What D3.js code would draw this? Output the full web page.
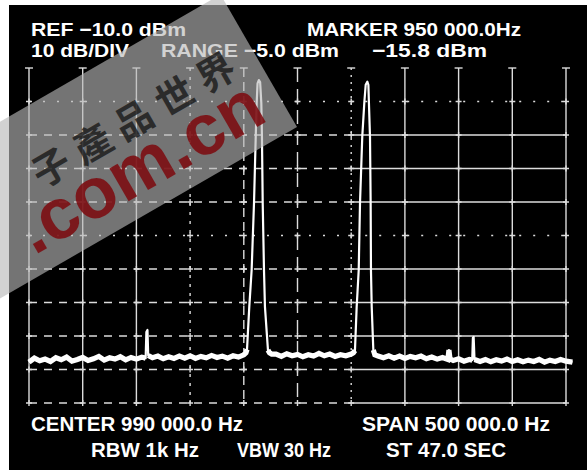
<!DOCTYPE html>
<html>
<head>
<meta charset="utf-8">
<style type="text/css">
  body{
    margin: 0;
    background: white;
  }
  svg{ display: block; }
  .lbl{
    fill: white;
    font-family: 'Liberation Sans', Arial, sans-serif;
    font-weight: bold;
  }
</style>
</head>
<body>

<script src="https://cdn.jsdelivr.net/npm/d3@7/dist/d3.min.js"></script>

<svg id="chart" width="587" height="470"></svg>

<script>

// analyzer settings (kHz, dBm)
var startKHz = 740, stopKHz = 1240;
var refDbm = -10, bottomDbm = -110;

var freqGrid = [740, 790, 840, 890, 940, 990, 1040, 1090, 1140, 1190, 1240];
var dbGrid = [-10, -20, -30, -40, -50, -60, -70, -80, -90, -100, -110];

// trace: [kHz, dBm]
var tracePoints = [
  [740,-97.8],[745,-96.6],[750,-97.4],[755,-96.9],[760,-97.6],[765,-96.5],[770,-97.1],
  [775,-96.3],[780,-97.5],[785,-97.0],[790,-96.4],[795,-97.3],[800,-96.8],[805,-96.1],
  [810,-97.2],[815,-96.5],[820,-96.9],[825,-96.2],[830,-97.1],[835,-96.4],[840,-96.9],
  [845,-96.3],[848.6,-96.6],[849.3,-88.8],[850.3,-88.2],[851,-95.8],[855,-96.5],
  [860,-96.0],[865,-96.8],[870,-96.2],[875,-96.7],[880,-96.0],[885,-96.6],[890,-95.9],
  [895,-96.7],[900,-96.1],[905,-96.5],[910,-95.8],[915,-96.4],[920,-96.0],[925,-96.6],
  [930,-95.9],[935,-96.3],[940,-95.6],[942,-95.0],[943,-94.0],
  [945.1,-81.3],[947.3,-70.3],[949.5,-50.3],[951.1,-30.5],[952,-20.4],[952.8,-14.6],
  [954,-13.6],[955.2,-14.2],[956.3,-20.4],[956.9,-30.5],[957.6,-50.3],[958.8,-70.3],
  [959.7,-81.3],[962.5,-94.2],[964,-95.0],[966,-95.4],
  [970,-95.4],[975,-96.1],[980,-95.3],[985,-95.9],[990,-95.5],[995,-96.2],[1000,-95.6],
  [1005,-96.0],[1010,-95.2],[1015,-95.9],[1020,-95.4],[1025,-96.1],[1030,-95.6],
  [1035,-95.9],[1040,-95.4],[1042,-95.0],[1043.5,-94.3],
  [1045.1,-81.3],[1047,-70.3],[1048.2,-50.3],[1050.3,-30.5],[1052.2,-20.4],[1053.5,-15.0],
  [1055,-14.1],[1056,-15.0],[1056.5,-20.4],[1057.5,-30.5],[1058.1,-50.3],[1058.4,-70.3],
  [1059.1,-81.3],[1060.6,-94.2],[1062,-95.6],[1065,-96.0],
  [1070,-96.5],[1075,-95.9],[1080,-96.6],[1085,-96.0],[1090,-96.7],[1095,-96.1],
  [1100,-96.5],[1105,-96.0],[1110,-96.8],[1115,-96.3],[1120,-96.9],[1125,-96.4],
  [1130,-97.0],[1131,-94.2],[1132,-96.8],[1135,-97.3],[1140,-96.8],[1145,-97.5],
  [1150,-97.0],[1152.7,-97.2],[1153.3,-90.6],[1154,-90.3],[1154.8,-97.0],[1160,-97.6],
  [1165,-97.0],[1170,-97.7],[1175,-97.1],[1180,-97.5],[1185,-96.9],[1190,-97.6],
  [1195,-97.1],[1200,-97.7],[1205,-97.2],[1210,-97.6],[1215,-97.0],[1220,-97.8],
  [1225,-97.2],[1230,-97.6],[1235,-97.0],[1240,-97.5],[1246,-97.8]
];

var headerTexts = ["REF \u221210.0 dBm", "MARKER 950 000.0Hz", "10 dB/DIV", "RANGE \u22125.0 dBm", "\u221215.8 dBm"];
var footerTexts = ["CENTER 990 000.0 Hz", "SPAN 500 000.0 Hz", "RBW 1k Hz", "VBW 30 Hz", "ST 47.0 SEC"];
var watermarkCn = "\u5b50\u7522\u54c1\u4e16\u754c";
var watermarkUrl = ".com.cn";

// layout
var headerPos = [[31,36,155],[307,36,214],[31,57,98],[161,57,178],[372,57,115]];
var footerPos = [[31,431,212],[362,431,188],[91,457,108],[237,457,94],[386,457,120]];

var svg = d3.select("#chart");

var x = d3.scaleLinear().domain([startKHz, stopKHz]).range([29, 566]);
var y = d3.scaleLinear().domain([refDbm, bottomDbm]).range([68, 403]);

svg.append("rect").attr("width", 587).attr("height", 470).attr("fill", "white");
svg.append("rect").attr("x", 9).attr("y", 5).attr("width", 578).attr("height", 465).attr("fill", "black");

var grid = svg.append("g")
  .attr("stroke", "#dcdcdc")
  .attr("stroke-width", 1.4)
  .attr("fill", "none");

// vertical divisions (photo has some broken ones)
var vDash = [null, null, null, "3 6", "9 5", "14 7", "2 5", null, null, null, null];

grid.selectAll(".vline")
  .data(freqGrid)
  .enter()
  .append("line")
  .attr("class", "vline")
  .attr("x1", function(d) { return x(d); })
  .attr("x2", function(d) { return x(d); })
  .attr("y1", y(refDbm))
  .attr("y2", y(bottomDbm))
  .attr("stroke-dasharray", function(d,i) { return vDash[i]; });

// caps on top of the verticals
grid.selectAll(".cap")
  .data(freqGrid)
  .enter()
  .append("line")
  .attr("x1", function(d) { return x(d) - 4; })
  .attr("x2", function(d) { return x(d) + 4; })
  .attr("y1", y(refDbm))
  .attr("y2", y(refDbm));

var hLevels = dbGrid.slice(1);

grid.selectAll(".hleft")
  .data(hLevels)
  .enter()
  .append("line")
  .attr("x1", x(startKHz))
  .attr("x2", x(1040))
  .attr("y1", function(d) { return y(d); })
  .attr("y2", function(d) { return y(d); })
  .attr("stroke-dasharray", function(d) { return (d == -20 || d == -60) ? "2 12" : "8 7"; });

grid.selectAll(".hright")
  .data(hLevels)
  .enter()
  .append("line")
  .attr("x1", x(1040))
  .attr("x2", x(stopKHz))
  .attr("y1", function(d) { return y(d); })
  .attr("y2", function(d) { return y(d); })
  .attr("stroke-dasharray", function(d) { return (d == -20 || d == -60) ? "2 12" : null; });

// small crosses at every intersection
var crossings = [];
freqGrid.forEach(function(f) {
  hLevels.forEach(function(db) { crossings.push([f, db]); });
});

grid.selectAll(".cross")
  .data(crossings)
  .enter()
  .append("path")
  .attr("d", function(d) {
    var cx = x(d[0]), cy = y(d[1]);
    return "M" + (cx-3) + "," + cy + "H" + (cx+3) + "M" + cx + "," + (cy-3) + "V" + (cy+3);
  });

// trace
var line = d3.line()
  .x(function(d) { return x(d[0]); })
  .y(function(d) { return y(d[1]); });

svg.append("path")
  .datum(tracePoints)
  .attr("d", line)
  .attr("fill", "none")
  .attr("stroke", "white")
  .attr("stroke-width", 2.2)
  .attr("stroke-linejoin", "round");

// noise floor drawn heavier, like the blurred band on the screen
svg.append("path")
  .datum(tracePoints)
  .attr("d", line.defined(function(d) { return d[1] < -93; }))
  .attr("fill", "none")
  .attr("stroke", "white")
  .attr("stroke-width", 5.2)
  .attr("stroke-linejoin", "miter");

// screen annotations
svg.selectAll(".head")
  .data(headerTexts)
  .enter()
  .append("text")
  .attr("class", "lbl")
  .attr("x", function(d,i) { return headerPos[i][0]; })
  .attr("y", function(d,i) { return headerPos[i][1]; })
  .attr("textLength", function(d,i) { return headerPos[i][2]; })
  .attr("lengthAdjust", "spacingAndGlyphs")
  .style("font-size", "19px")
  .text(function(d) { return d; });

svg.selectAll(".foot")
  .data(footerTexts)
  .enter()
  .append("text")
  .attr("class", "lbl")
  .attr("x", function(d,i) { return footerPos[i][0]; })
  .attr("y", function(d,i) { return footerPos[i][1]; })
  .attr("textLength", function(d,i) { return footerPos[i][2]; })
  .attr("lengthAdjust", "spacingAndGlyphs")
  .style("font-size", "20px")
  .text(function(d) { return d; });

// watermark band on top of the photo
var wm = svg.append("g")
  .attr("transform", "translate(297,127) rotate(-30)");

wm.append("rect")
  .attr("x", -420)
  .attr("y", -153)
  .attr("width", 420)
  .attr("height", 153)
  .attr("fill", "rgb(183,183,183)")
  .attr("fill-opacity", 0.63);

wm.append("text")
  .attr("x", -252)
  .attr("y", -74)
  .attr("textLength", 228)
  .attr("lengthAdjust", "spacing")
  .style("font-family", "'Noto Sans CJK TC', sans-serif")
  .style("font-weight", "bold")
  .style("font-size", "38px")
  .attr("fill", "#1e1e1e")
  .attr("fill-opacity", 0.85)
  .text(watermarkCn);

wm.append("text")
  .attr("x", -292)
  .attr("y", -20)
  .attr("textLength", 272)
  .attr("lengthAdjust", "spacing")
  .style("font-family", "'Liberation Sans', Arial, sans-serif")
  .style("font-weight", "bold")
  .style("font-size", "72px")
  .attr("fill", "#7c0b10")
  .attr("fill-opacity", 0.88)
  .text(watermarkUrl);

</script>

</body>
</html>
